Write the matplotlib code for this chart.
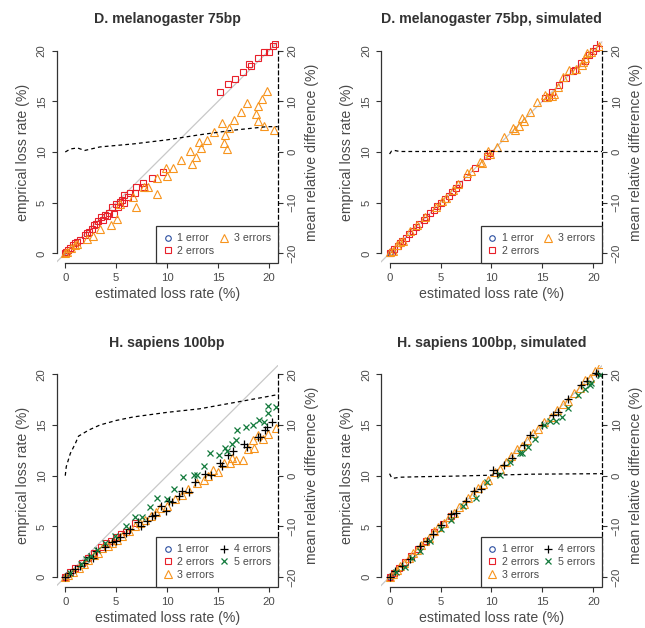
import matplotlib.pyplot as plt
from matplotlib.lines import Line2D

plt.rcParams['font.family'] = ['Liberation Sans', 'DejaVu Sans']

# ---- colours / series meta
err_labels = ['1 error', '2 errors', '3 errors', '4 errors', '5 errors']
err_colors = ['#2b4ea0', '#e8202a', '#f7941d', '#000000', '#137a3c']
err_markers = ['o', 's', '^', '+', 'x']
err_sizes = [4.0, 4.2, 5.4, 6.2, 4.4]

# ---- D. melanogaster 75bp (real)
mel_x1 = [0.0, 0.1]
mel_y1 = [0.0, 0.1]
mel_x2 = [0.0, 0.1, 0.3, 0.5, 0.8, 1.0, 1.2, 1.4, 1.9, 2.1, 2.3, 2.6, 2.8, 3.0, 3.2, 3.5, 3.7,
          3.9, 4.1, 4.3, 4.6, 4.8, 5.0, 5.2, 5.4, 5.6, 5.8, 5.8, 6.2, 6.4, 6.8, 6.9, 7.6, 7.7,
          8.5, 9.6, 15.2, 16.0, 16.7, 17.4, 18.0, 18.2, 18.9, 19.5, 20.0, 20.4, 20.6]
mel_y2 = [0.0, 0.1, 0.3, 0.5, 0.8, 1.0, 1.1, 1.3, 1.8, 2.0, 2.1, 2.4, 2.8, 2.9, 3.2, 3.6, 3.3,
          3.8, 3.7, 4.0, 4.6, 3.9, 4.9, 4.6, 5.1, 5.3, 5.0, 5.8, 5.6, 6.0, 6.0, 6.5, 6.9, 6.5,
          7.4, 8.0, 15.9, 16.7, 17.2, 17.9, 18.7, 18.5, 19.3, 19.9, 19.9, 20.5, 20.7]
mel_x3 = [0.0, 0.2, 0.6, 1.0, 1.2, 2.1, 2.7, 3.4, 4.5, 5.05, 5.4, 6.6, 6.9, 7.7, 8.1, 9.0, 9.0,
          9.9, 10.0, 10.6, 11.4, 12.2, 12.4, 12.8, 13.1, 13.3, 13.9, 14.6, 15.4, 15.6, 15.7, 15.85,
          16.1, 16.6, 17.2, 17.85, 18.7, 18.9, 18.96, 19.35, 19.55, 19.8, 20.5]
mel_y3 = [0.0, 0.1, 0.5, 0.8, 0.9, 1.4, 1.7, 2.4, 2.8, 3.4, 4.9, 5.6, 4.6, 6.5, 6.5, 5.9, 7.4,
          8.4, 7.6, 8.4, 9.2, 10.1, 8.8, 9.5, 11.0, 10.4, 11.2, 12.0, 12.9, 10.9, 11.7, 10.3,
          12.4, 13.2, 13.9, 14.8, 13.7, 13.1, 14.5, 15.2, 12.6, 16.0, 12.2]
mel_dx = [0.0, 0.5, 1.2, 1.9, 3.4, 6.7, 10.0, 13.2, 16.5, 19.8, 20.85]
mel_dr = [0.0, 0.6, 0.8, 0.3, 1.0, 1.6, 2.4, 3.4, 4.3, 5.0, 5.0]

# ---- D. melanogaster 75bp, simulated
mels_x1 = [0.0, 0.1]
mels_y1 = [0.0, 0.1]
mels_x2 = [0.0, 0.2, 0.4, 0.8, 1.0, 1.2, 1.6, 1.9, 2.3, 2.6, 2.9, 3.4, 3.6, 4.0, 4.4, 4.7, 5.0,
           5.4, 5.8, 6.1, 6.5, 6.8, 7.6, 8.4, 9.6, 9.9, 15.3, 15.6, 15.9, 16.6, 17.3, 18.0, 18.2,
           18.8, 19.2, 19.6, 20.0, 20.3, 20.7]
mels_y2 = [0.0, 0.1, 0.4, 0.7, 1.0, 1.2, 1.5, 1.9, 2.2, 2.6, 2.9, 3.3, 3.6, 4.0, 4.3, 4.7, 5.0,
           5.4, 5.7, 6.1, 6.4, 6.8, 7.5, 8.4, 9.6, 9.9, 15.3, 15.4, 15.9, 16.6, 17.3, 18.0, 18.1,
           18.8, 19.0, 19.6, 20.0, 20.3, 20.8]
mels_x3 = [0.0, 0.3, 0.7, 1.0, 1.3, 2.0, 2.7, 3.5, 4.6, 5.1, 5.5, 6.2, 6.7, 7.6, 8.0, 8.9, 9.1,
           9.7, 9.9, 10.5, 11.2, 12.1, 12.3, 12.7, 13.0, 13.2, 13.8, 14.5, 15.3, 15.5, 15.9, 16.1,
           16.5, 17.0, 17.6, 18.3, 18.9, 19.0, 19.2, 19.4, 19.8, 20.6]
mels_y3 = [0.1, 0.2, 0.8, 1.1, 1.2, 2.2, 2.8, 3.6, 4.6, 5.2, 5.5, 6.3, 6.8, 7.9, 8.1, 9.0, 8.9,
           10.1, 9.8, 10.5, 11.5, 12.4, 12.2, 12.6, 13.4, 13.1, 13.9, 14.9, 15.6, 15.4, 15.5, 15.7,
           16.4, 17.4, 18.1, 18.2, 18.6, 18.9, 19.3, 19.8, 19.9, 20.5]
mels_dx = [0.0, 0.2, 0.5, 1.0, 2.0, 5.0, 10.0, 15.0, 20.85]
mels_dr = [-0.4, 0.2, 0.3, 0.1, 0.1, 0.1, 0.1, 0.1, 0.1]

# ---- H. sapiens 100bp (real)
hs_x1 = [0.0, 0.2]
hs_y1 = [0.0, 0.2]
hs_x2 = [0.0, 0.5, 1.0, 1.6, 2.2, 2.8, 3.5, 4.0, 4.5, 5.0, 5.5, 6.0, 6.8]
hs_y2 = [0.0, 0.5, 0.9, 1.4, 1.9, 2.4, 3.0, 3.4, 3.6, 4.0, 4.2, 4.4, 5.3]
hs_x3 = [0.0, 0.3, 0.8, 1.3, 1.8, 2.2, 2.8, 3.2, 3.6, 4.2, 4.6, 5.1, 5.6, 6.3, 6.8, 7.3, 7.8,
         8.4, 8.9, 9.3, 10.0, 10.8, 11.5, 12.0, 12.9, 13.6, 14.0, 14.5, 15.0, 15.6, 16.2, 16.4,
         16.8, 17.4, 17.9, 18.4, 18.5, 18.9, 19.4, 19.9, 20.7]
hs_y3 = [0.0, 0.2, 0.5, 0.9, 1.3, 1.7, 2.2, 2.4, 2.9, 3.1, 3.4, 3.7, 4.1, 4.5, 5.0, 5.3, 5.6,
         6.0, 6.4, 6.8, 7.0, 7.7, 8.1, 8.7, 9.3, 9.6, 10.0, 10.6, 10.4, 11.3, 11.3, 11.7,
         11.5, 11.5, 12.6, 13.5, 12.7, 14.0, 13.6, 14.1, 14.7]
hs_x4 = [0.0, 0.5, 1.0, 1.4, 1.8, 2.3, 2.7, 3.0, 3.9, 4.6, 5.0, 5.4, 6.0, 6.4, 7.1, 7.4, 8.0,
         8.5, 8.8, 9.4, 9.9, 10.2, 10.5, 11.2, 11.5, 12.1, 12.7, 13.7, 14.3, 15.2, 15.4, 16.0,
         16.5, 17.5, 17.8, 18.9, 19.1, 19.6, 19.8, 20.3]
hs_y4 = [0.0, 0.4, 0.8, 1.1, 1.4, 2.0, 1.9, 2.6, 3.0, 3.5, 3.6, 4.0, 4.3, 4.7, 5.4, 5.0, 5.5,
         6.0, 6.1, 7.0, 6.5, 7.5, 7.4, 8.0, 8.5, 8.4, 9.4, 10.2, 10.1, 11.3, 11.0, 12.0,
         12.4, 13.1, 12.8, 13.8, 13.8, 14.5, 14.8, 15.3]
hs_x5 = [0.5, 1.5, 2.0, 2.5, 3.1, 3.9, 4.9, 6.0, 6.85, 7.5, 8.3, 9.0, 10.0, 10.7, 11.6, 12.6,
         12.9, 13.6, 14.2, 15.1, 15.7, 15.85, 16.4, 16.8, 16.9, 17.7, 18.4, 19.0, 19.5, 19.9,
         19.9, 20.7]
hs_y5 = [0.4, 1.3, 1.8, 2.1, 2.7, 3.4, 4.1, 5.0, 5.9, 5.9, 6.9, 7.8, 7.7, 8.7, 9.9, 10.1,
         10.1, 11.0, 12.2, 12.0, 12.7, 12.4, 13.1, 13.5, 14.5, 14.8, 15.0, 15.5, 15.3, 16.2,
         16.9, 16.8]
hs_dx = [0.0, 0.1, 0.5, 1.0, 1.3, 2.3, 3.4, 5.0, 6.7, 10.0, 13.2, 16.5, 19.8, 20.85]
hs_dr = [0.0, 1.8, 4.4, 6.4, 7.8, 9.0, 10.0, 10.9, 11.6, 12.5, 13.2, 14.4, 15.6, 16.0]

# ---- H. sapiens 100bp, simulated
hss_x1 = [0.0, 0.2]
hss_y1 = [0.0, 0.2]
hss_x2 = [0.0, 0.4, 0.9, 1.5, 2.1, 2.8, 3.6, 4.4, 5.2, 6.0]
hss_y2 = [0.0, 0.4, 0.9, 1.5, 2.1, 2.8, 3.6, 4.4, 5.2, 6.0]
hss_x3 = [0.0, 0.3, 0.7, 1.0, 1.4, 1.9, 2.3, 2.7, 3.1, 3.5, 3.9, 4.4, 4.8, 5.3, 5.8, 6.3, 6.8,
          7.3, 7.7, 8.2, 8.7, 9.2, 9.7, 10.3, 10.8, 11.4, 11.9, 12.5, 13.0, 13.5, 14.1, 14.6,
          15.2, 15.8, 16.4, 17.0, 17.5, 18.1, 18.7, 19.2, 19.7, 20.2, 20.8]
hss_y3 = [0.0, 0.3, 0.7, 1.1, 1.4, 1.9, 2.4, 2.7, 3.2, 3.6, 3.9, 4.5, 4.9, 5.3, 5.9, 6.3, 6.9,
          7.2, 7.8, 8.2, 8.8, 9.2, 9.6, 10.4, 10.7, 11.4, 11.9, 12.6, 12.9, 13.5, 14.2, 14.6,
          15.3, 15.8, 16.5, 17.1, 17.4, 18.2, 18.7, 19.4, 19.6, 20.3, 21.0]
hss_x4 = [0.0, 0.5, 1.2, 2.0, 3.0, 3.7, 4.3, 5.0, 6.0, 6.5, 7.5, 8.3, 9.0, 10.2, 10.5, 11.2,
          12.0, 13.2, 13.8, 15.0, 16.0, 16.5, 17.5, 18.8, 19.4, 20.3, 20.5]
hss_y4 = [0.0, 0.6, 1.1, 1.8, 3.1, 3.6, 4.2, 5.1, 6.2, 6.3, 7.5, 8.5, 8.7, 10.6, 10.3, 11.1,
          11.7, 13.0, 14.0, 15.0, 16.0, 16.3, 17.6, 18.9, 19.3, 20.1, 20.0]
hss_x5 = [0.6, 1.5, 2.2, 3.0, 4.0, 5.0, 6.0, 7.2, 8.5, 9.6, 10.8, 11.8, 12.8, 13.0, 13.6, 14.3,
          15.2, 15.7, 16.3, 16.9, 17.5, 18.5, 19.2, 19.7, 19.8, 20.7]
hss_y5 = [0.5, 1.0, 1.9, 2.6, 3.6, 4.7, 5.6, 7.0, 7.8, 9.4, 10.1, 11.4, 12.2, 12.2, 12.8, 13.6,
          15.0, 15.4, 15.4, 15.8, 16.7, 18.0, 18.6, 18.9, 19.1, 19.9]
hss_dx = [0.0, 0.2, 0.4, 1.0, 3.0, 6.0, 10.0, 14.0, 20.85]
hss_dr = [0.4, -0.4, -0.5, -0.3, -0.2, -0.1, 0.1, 0.3, 0.4]

XLIM = (-0.84, 20.85)
YLIM = (-0.95, 20.95)
AX_W = 221 / 645
AX_H = 222 / 628

panels = [
    ('D. melanogaster 75bp', 56.7, 263, [(mel_x1, mel_y1), (mel_x2, mel_y2), (mel_x3, mel_y3)], (mel_dx, mel_dr)),
    ('D. melanogaster 75bp, simulated', 381, 263, [(mels_x1, mels_y1), (mels_x2, mels_y2), (mels_x3, mels_y3)], (mels_dx, mels_dr)),
    ('H. sapiens 100bp', 56.7, 586.7, [(hs_x1, hs_y1), (hs_x2, hs_y2), (hs_x3, hs_y3), (hs_x4, hs_y4), (hs_x5, hs_y5)], (hs_dx, hs_dr)),
    ('H. sapiens 100bp, simulated', 381, 586.7, [(hss_x1, hss_y1), (hss_x2, hss_y2), (hss_x3, hss_y3), (hss_x4, hss_y4), (hss_x5, hss_y5)], (hss_dx, hss_dr)),
]

fig = plt.figure(figsize=(6.45, 6.28), dpi=100)

AXC = '#333333'
TXC = '#4a4a4a'


def marker_kw(i):
    if err_markers[i] in ('+', 'x'):
        return dict(ls='none', marker=err_markers[i], ms=err_sizes[i], mew=0.9, color=err_colors[i])
    return dict(ls='none', marker=err_markers[i], ms=err_sizes[i], mew=0.8,
                color=err_colors[i], mfc='none', mec=err_colors[i])


for title, left_px, bottom_px, series, (dx, dr) in panels:
    ax = fig.add_axes([left_px / 645, 1 - bottom_px / 628, AX_W, AX_H])
    ax.set_xlim(XLIM)
    ax.set_ylim(YLIM)
    ax.axline((0, 0), slope=1, color='#c8c8c8', lw=0.9, zorder=1)
    for i, (xs, ys) in enumerate(series):
        ax.plot(xs, ys, zorder=2 + i, **marker_kw(i))
    for s in ['top', 'right']:
        ax.spines[s].set_visible(False)
    ax.spines['left'].set_bounds(0, 20)
    ax.spines['bottom'].set_bounds(0, 20)
    for s in ['left', 'bottom']:
        ax.spines[s].set_color(AXC)
        ax.spines[s].set_linewidth(0.9)
    ax.set_xticks([0, 5, 10, 15, 20])
    ax.set_yticks([0, 5, 10, 15, 20])
    ax.tick_params(direction='out', length=3.6, width=0.8, color=AXC, labelsize=8.2,
                   labelcolor=TXC, pad=3.5)
    for lab in ax.get_yticklabels():
        lab.set_rotation(90)
        lab.set_va('center')
    ax.set_xlabel('estimated loss rate (%)', fontsize=10.2, color=TXC, labelpad=3)
    ax.set_ylabel('emprical loss rate (%)', fontsize=10.2, color=TXC, labelpad=5)
    ax.set_title(title, fontsize=10.2, fontweight='bold', color='#333333', pad=13)

    ax2 = ax.twinx()
    ax2.set_ylim(2 * YLIM[0] - 20, 2 * YLIM[1] - 20)
    ax2.plot(dx, dr, color='black', lw=0.9, ls=(0, (3, 2.5)), zorder=3)
    for s in ['top', 'left', 'bottom']:
        ax2.spines[s].set_visible(False)
    ax2.spines['right'].set_bounds(-20, 20)
    ax2.spines['right'].set_linestyle((0, (3, 2.5)))
    ax2.spines['right'].set_linewidth(0.9)
    ax2.spines['right'].set_color('black')
    ax2.set_yticks([-20, -10, 0, 10, 20])
    ax2.tick_params(direction='out', length=3.6, width=0.8, color=AXC, labelsize=8.2,
                    labelcolor=TXC, pad=3.5)
    for lab in ax2.get_yticklabels():
        lab.set_rotation(90)
        lab.set_va('center')
    ax2.set_ylabel('mean relative difference (%)', fontsize=10.2, color=TXC, labelpad=5)

    handles = [Line2D([], [], label=err_labels[i], **marker_kw(i)) for i in range(len(series))]
    leg = ax2.legend(handles=handles, ncol=2, loc='lower right', bbox_to_anchor=(1, 0),
                     bbox_transform=ax.transAxes, borderaxespad=0, fontsize=7.7,
                     frameon=True, fancybox=False, framealpha=1, edgecolor=AXC,
                     handlelength=0.8, handletextpad=0.5, columnspacing=0.5,
                     labelspacing=0.25, borderpad=0.65)
    for txt in leg.get_texts():
        txt.set_color(TXC)
    leg.get_frame().set_linewidth(0.9)
    leg.set_zorder(10)

fig.savefig('out.png', dpi=100)
